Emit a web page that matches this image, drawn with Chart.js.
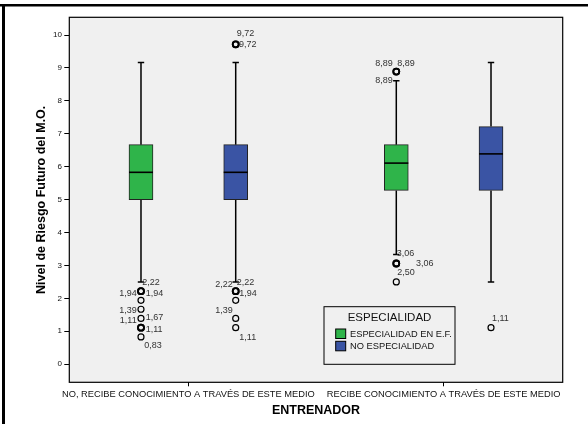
<!DOCTYPE html>
<html><head><meta charset="utf-8">
<script src="https://cdn.jsdelivr.net/npm/chart.js@4.4.1/dist/chart.umd.min.js"></script>
<style>html,body{margin:0;padding:0;background:#fff;overflow:hidden;} canvas{display:block;}</style>
</head><body>
<canvas id="c" width="588" height="424" style="width:588px;height:424px"></canvas>
<script>
const FONT = "'Liberation Sans', Arial, Helvetica, sans-serif";

// ---------- data ----------
const categories = ['NO, RECIBE CONOCIMIENTO A TRAVÉS DE ESTE MEDIO', 'RECIBE CONOCIMIENTO A TRAVÉS DE ESTE MEDIO'];
const groupNames = ['ESPECIALIDAD EN E.F.', 'NO ESPECIALIDAD'];
const yTicks = [0, 1, 2, 3, 4, 5, 6, 7, 8, 9, 10];

const espLow = [2.50, 3.33];
const espQ1  = [5.00, 5.28];
const espMed = [5.83, 6.11];
const espQ3  = [6.67, 6.67];
const espHigh= [9.17, 8.61];
const espOutliers = [[2.22, 2.22, 1.94, 1.67, 1.39, 1.11, 1.11, 0.83], [8.89, 8.89, 3.06, 3.06, 2.50]];

const noLow  = [2.50, 2.50];
const noQ1   = [5.00, 5.28];
const noMed  = [5.83, 6.39];
const noQ3   = [6.67, 7.22];
const noHigh = [9.17, 9.17];
const noOutliers = [[9.72, 9.72, 2.22, 2.22, 1.94, 1.39, 1.11], [1.11]];

// outlier label annotations: [value, align, dx, dy] (placement only)
const espLabelLayout = [
  [[2.22,'L',1.3,-9],[1.94,'R',-4.3,-7],[1.94,'L',4.7,-7],[1.39,'R',-4.3,-7.5],[1.67,'L',4.7,8.5],[1.11,'R',-4.3,-6.7],[1.11,'L',4.7,1.6],[0.83,'L',3.3,9]],
  [[8.89,'R',-3.6,-8.3],[8.89,'L',1,-8.3],[8.89,'R',-3.6,9.4],[3.06,'L',0.4,-9.5],[3.06,'L',19.7,0],[2.50,'L',1,-9.6]]
];
const noLabelLayout = [
  [[9.72,'L',1,-10.3],[9.72,'L',3.3,0],[2.22,'R',-3,-7],[2.22,'L',1,-9],[1.94,'L',3.6,-6.7],[1.39,'R',-3,-7.5],[1.11,'L',3.6,9.6]],
  [[1.11,'L',1,-9.4]]
];

// ---------- style constants ----------
const GREEN = '#2fb44a', BLUE = '#3a54a4', PLOTBG = '#f0f0f0';
const X_MIN = -0.4663, X_MAX = 1.4663, DODGE = 0.1855;
const Y_MIN = -0.55, Y_MAX = 10.54;

function boxData(q1, q3, sign) { return q1.map((v, i) => ({ x: i + sign * DODGE, y: [v, q3[i]] })); }
function outlierData(out, sign) { const p = []; out.forEach((arr, i) => arr.forEach(v => p.push({ x: i + sign * DODGE, y: v }))); return p; }
function dupWidth(ctx) {
  const d = ctx.dataset.data, p = d[ctx.dataIndex];
  if (!p) return 1.2;
  return d.filter(q => q.x === p.x && q.y === p.y).length > 1 ? 1.8 : 1.2;
}

const stats = [
  { low: espLow, med: espMed, high: espHigh, layout: espLabelLayout },
  { low: noLow, med: noMed, high: noHigh, layout: noLabelLayout }
];

const boxPlugin = {
  id: 'boxplot',
  beforeDraw(chart) {
    const { ctx, chartArea: a } = chart;
    ctx.save();
    ctx.fillStyle = '#fff'; ctx.fillRect(0, 0, chart.width, chart.height);
    ctx.fillStyle = PLOTBG; ctx.fillRect(a.left, a.top, a.right - a.left, a.bottom - a.top);
    ctx.restore();
  },
  beforeDatasetsDraw(chart) {
    const { ctx } = chart; const ys = chart.scales.y;
    ctx.save(); ctx.strokeStyle = '#000'; ctx.lineWidth = 1.5;
    [0, 1].forEach(di => {
      const meta = chart.getDatasetMeta(di); const s = stats[di];
      meta.data.forEach((el, j) => {
        const x = el.x;
        const yl = ys.getPixelForValue(s.low[j]), yh = ys.getPixelForValue(s.high[j]);
        const b = chart.data.datasets[di].data[j].y;
        const y1 = ys.getPixelForValue(b[0]), y3 = ys.getPixelForValue(b[1]);
        ctx.beginPath();
        ctx.moveTo(x, yl); ctx.lineTo(x, y1);
        ctx.moveTo(x, y3); ctx.lineTo(x, yh);
        ctx.moveTo(x - 3.2, yl); ctx.lineTo(x + 3.2, yl);
        ctx.moveTo(x - 3.2, yh); ctx.lineTo(x + 3.2, yh);
        ctx.stroke();
      });
    });
    ctx.restore();
  },
  afterDatasetsDraw(chart) {
    const { ctx, chartArea: a } = chart; const ys = chart.scales.y;
    ctx.save();
    // medians
    ctx.strokeStyle = '#000'; ctx.lineWidth = 1.6;
    [0, 1].forEach(di => {
      const meta = chart.getDatasetMeta(di); const s = stats[di];
      meta.data.forEach((el, j) => {
        const y = ys.getPixelForValue(s.med[j]);
        ctx.beginPath(); ctx.moveTo(el.x - el.width / 2, y); ctx.lineTo(el.x + el.width / 2, y); ctx.stroke();
      });
    });
    // outlier labels
    ctx.fillStyle = '#333'; ctx.font = '9px ' + FONT; ctx.textBaseline = 'middle';
    [0, 1].forEach(di => {
      const meta = chart.getDatasetMeta(di); const s = stats[di];
      meta.data.forEach((el, j) => {
        s.layout[j].forEach(([v, al, dx, dy]) => {
          const t = v.toFixed(2).replace('.', ',');
          ctx.textAlign = al === 'L' ? 'left' : 'right';
          ctx.fillText(t, el.x + dx, ys.getPixelForValue(v) + dy);
        });
      });
    });
    // plot frame
    ctx.strokeStyle = '#000'; ctx.lineWidth = 1.2;
    ctx.strokeRect(a.left, a.top, a.right - a.left, a.bottom - a.top);
    // legend
    const lx = a.left + 254.7, ly = a.top + 289.4, lw = 131, lh = 57.6;
    ctx.lineWidth = 1; ctx.strokeRect(lx, ly, lw, lh);
    ctx.fillStyle = '#111'; ctx.textAlign = 'center'; ctx.font = '11.5px ' + FONT;
    ctx.fillText('ESPECIALIDAD', lx + lw / 2, ly + 10.8);
    ctx.textAlign = 'left'; ctx.font = '9.3px ' + FONT;
    [0, 1].forEach(i => {
      const ds = chart.data.datasets[i];
      const sy = ly + 22.3 + i * 12.3;
      ctx.fillStyle = ds.backgroundColor; ctx.fillRect(lx + 11.7, sy, 10, 9.5);
      ctx.strokeStyle = '#000'; ctx.strokeRect(lx + 11.7, sy, 10, 9.5);
      ctx.fillStyle = '#111'; ctx.fillText(ds.label, lx + 26, sy + 5);
    });
    // outer frame lines
    ctx.fillStyle = '#000';
    ctx.fillRect(0, 4, chart.width, 2.5);
    ctx.fillRect(2, 4, 3, chart.height - 4);
    ctx.restore();
  }
};

new Chart(document.getElementById('c'), {
  type: 'bar',
  data: {
    datasets: [
      { label: groupNames[0], data: boxData(espQ1, espQ3, -1), backgroundColor: GREEN, borderColor: '#222', borderWidth: 1, borderSkipped: false, barThickness: 24, grouped: false, order: 1 },
      { label: groupNames[1], data: boxData(noQ1, noQ3, 1), backgroundColor: BLUE, borderColor: '#222', borderWidth: 1, borderSkipped: false, barThickness: 24, grouped: false, order: 1 },
      { type: 'scatter', label: 'o1', data: outlierData(espOutliers, -1), pointRadius: 3, pointBorderWidth: dupWidth, borderColor: '#000', pointBorderColor: '#000', pointBackgroundColor: 'rgba(0,0,0,0)', backgroundColor: 'rgba(0,0,0,0)', order: 0 },
      { type: 'scatter', label: 'o2', data: outlierData(noOutliers, 1), pointRadius: 3, pointBorderWidth: dupWidth, borderColor: '#000', pointBorderColor: '#000', pointBackgroundColor: 'rgba(0,0,0,0)', backgroundColor: 'rgba(0,0,0,0)', order: 0 }
    ]
  },
  options: {
    responsive: false, animation: false, events: [],
    layout: { padding: { top: 17.3, right: 25.3, left: 0, bottom: 0 } },
    plugins: { legend: { display: false }, tooltip: { enabled: false } },
    scales: {
      x: {
        type: 'linear', min: X_MIN, max: X_MAX, offset: false,
        afterBuildTicks: s => { s.ticks = categories.map((c, i) => ({ value: i })); },
        ticks: { autoSkip: false, maxRotation: 0, minRotation: 0, padding: 2.5, color: '#111', font: { family: FONT, size: 9.3 }, callback: v => categories[v] },
        grid: { display: true, offset: false, drawOnChartArea: false, drawTicks: true, tickLength: 4, tickColor: '#000', tickWidth: 1 },
        border: { display: false },
        title: { display: true, text: 'ENTRENADOR', color: '#000', font: { family: FONT, size: 12.5, weight: 'bold' }, padding: { top: 0, bottom: 5.8 } },
        afterFit: s => { s.height = 41.7; s.paddingLeft = 0; s.paddingRight = 0; }
      },
      y: {
        min: Y_MIN, max: Y_MAX,
        afterBuildTicks: s => { s.ticks = yTicks.map(v => ({ value: v })); },
        ticks: { padding: 2.3, color: '#111', font: { family: FONT, size: 8 }, callback: v => String(v) },
        grid: { display: true, drawOnChartArea: false, drawTicks: true, tickLength: 5, tickColor: '#000', tickWidth: 1 },
        border: { display: false },
        title: { display: true, text: 'Nivel de Riesgo Futuro del M.O.', color: '#000', font: { family: FONT, size: 12.5, weight: 'bold' }, padding: { top: 34.5, bottom: 0 } },
        afterFit: s => { s.width = 69.3; s.paddingTop = 0; s.paddingBottom = 0; }
      }
    }
  },
  plugins: [boxPlugin]
});
</script>
</body></html>
